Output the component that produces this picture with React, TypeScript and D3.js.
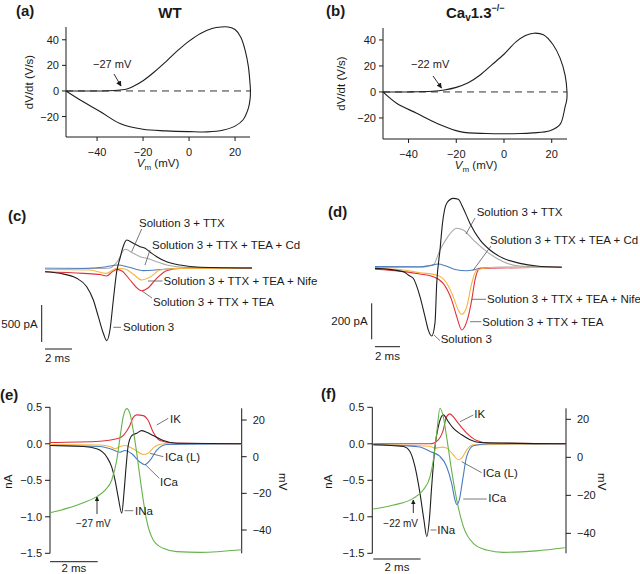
import React from 'react';
import * as d3 from 'd3';

type Pt = [number, number];

// (a) WT phase plot, Vm (mV) vs dV/dt (V/s): rising branch then falling branch
const wtRise: Pt[] = [[-53.5,0],[-45,0],[-35,0.2],[-30,0.8],[-27,1.5],[-24,3.8],[-20,8],[-15,15],[-10,23],[-5,31.5],[0,39],[5,45],[10,48.8],[14,50],[17,50],[20,48],[22.5,42],[24.5,31],[25.8,19],[26.5,6],[26.7,0]];
const wtFall: Pt[] = [[26.5,-7],[25.7,-14],[23.5,-22.5],[20,-27.5],[15,-30.5],[8,-32],[0,-31.8],[-10,-31.2],[-20,-30],[-30,-25.5],[-38.7,-16],[-46,-8.5],[-53.5,0]];
// (b) Cav1.3-/- phase plot
const koRise: Pt[] = [[-50.7,0],[-40,0],[-30,0.5],[-25,1.5],[-20,3.5],[-15,7],[-10,13],[-5,21],[0,29],[5,38.5],[9,43.5],[12.5,45.2],[16.5,44],[20.5,36.5],[23.5,26],[25.6,13],[26.4,0]];
const koFall: Pt[] = [[26.3,-6],[25.6,-11.5],[23.5,-25],[19.3,-29.8],[12,-31.5],[6.7,-32],[-7.3,-32],[-18.4,-30.5],[-28.2,-24],[-36.6,-16.4],[-45,-8.7],[-50.7,0]];
const phaseYTicks = [40, 20, 0, -20];
const phaseXTicks = [-40, -20, 0, 20];

// (c) WT currents, ms vs pA
const cSol3: Pt[] = [[0,-50],[1.11,-72],[2.35,-139],[3.09,-253],[3.58,-432],[3.95,-658],[4.32,-882],[4.57,-982],[4.81,-838],[5.06,-432],[5.31,-50],[5.56,135],[5.78,284],[6.05,378],[6.54,334],[7.04,288],[7.41,266],[7.78,216],[8.27,153],[9.01,85],[10,40],[11.48,10],[15.33,0]];
const cTTX: Pt[] = [[0,0],[4.07,-7],[4.81,0],[5.33,81],[5.93,253],[6.54,199],[7.04,153],[7.53,131],[8.27,85],[9.01,40],[10.24,10],[15.33,0]];
const cCd: Pt[] = [[0,-14],[2.81,-7],[4.44,14],[5.43,41],[6.15,14],[7.28,-36],[8.15,-27],[9.01,-14],[10.74,0],[15.33,0]];
const cNife: Pt[] = [[0,-20],[3.33,-27],[4.57,-72],[5.31,-4],[5.93,-14],[6.52,-81],[7.16,-162],[7.78,-122],[8.52,-27],[9.63,-7],[15.33,0]];
const cTEA: Pt[] = [[0,-50],[2.84,-72],[4.07,-88],[4.57,-108],[4.96,-54],[5.31,-18],[5.7,-41],[6.3,-162],[6.74,-257],[7.16,-307],[7.63,-270],[8.27,-139],[9.01,-36],[10,-7],[15.33,0]];

// (d) Cav1.3-/- currents, ms vs pA
const dSol3: Pt[] = [[0,-6],[2.26,-24],[2.66,-43],[3.06,-61],[3.6,-163],[4,-274],[4.26,-348],[4.54,-382],[4.8,-309],[4.94,-89],[5.2,96],[5.4,244],[5.74,356],[6.26,383],[6.66,378],[7.06,328],[7.6,244],[8.4,152],[9.2,96],[10.26,50],[11.6,22],[12.94,7],[14.94,0]];
const dTTX: Pt[] = [[0,0],[3.6,0],[4.66,13],[5.2,96],[5.74,161],[6.54,217],[7.06,207],[7.86,152],[8.94,87],[10.26,31],[11.6,7],[14.94,0]];
const dCd: Pt[] = [[0,4],[3.6,3],[4.4,10],[5.06,18],[5.68,7],[6.4,-12],[7.34,-19],[7.84,-15],[8.4,-6],[10,0],[14.94,0]];
const dNife: Pt[] = [[0,-6],[2.24,-15],[3.6,-30],[4.94,-43],[5.74,-89],[6.26,-163],[6.66,-237],[6.94,-261],[7.34,-219],[7.74,-89],[8.14,-15],[9.2,-1],[14.94,0]];
const dTEA: Pt[] = [[0,-11],[2.26,-24],[3.6,-37],[4.66,-52],[5.46,-89],[6.14,-182],[6.54,-274],[6.94,-348],[7.34,-302],[7.74,-182],[8,-71],[8.4,-6],[14.94,0]];

// (e) WT subtracted currents (nA) and AP (mV)
const eVm: Pt[] = [[0,-30.6],[0.7,-28.2],[1.4,-25.1],[1.96,-21.8],[2.31,-18.2],[2.59,-12.7],[2.8,-1.8],[2.94,10.8],[3.07,21.7],[3.22,26.2],[3.35,23.6],[3.49,14.5],[3.64,1.8],[3.77,-10.9],[3.91,-23.6],[4.05,-34.5],[4.33,-45.4],[4.75,-50],[5.31,-51.8],[6.29,-52.2],[8.04,-50.8]];
const eINa: Pt[] = [[0,-0.023],[1.4,-0.037],[1.96,-0.068],[2.38,-0.18],[2.59,-0.32],[2.73,-0.5],[2.86,-0.73],[3.01,-0.95],[3.1,-0.68],[3.19,-0.32],[3.28,-0.023],[3.43,0.113],[3.64,0.145],[3.84,0.18],[4.05,0.158],[4.33,0.113],[4.75,0.045],[5.31,0.008],[8.04,0]];
const eIK: Pt[] = [[0,0.018],[2.1,0.035],[2.8,0.068],[3.07,0.113],[3.35,0.25],[3.49,0.363],[3.64,0.396],[3.91,0.386],[4.12,0.318],[4.33,0.158],[4.61,0.045],[5.16,0.01],[8.04,0]];
const eICaL: Pt[] = [[0,-0.01],[2.1,-0.016],[2.52,-0.037],[2.73,-0.068],[2.94,-0.037],[3.14,-0.023],[3.49,-0.068],[3.91,-0.146],[4.12,-0.128],[4.4,-0.037],[4.75,0],[8.04,0]];
const eICa: Pt[] = [[0,-0.023],[2.1,-0.037],[2.52,-0.068],[2.94,-0.115],[3.14,-0.091],[3.43,-0.136],[3.77,-0.25],[3.98,-0.286],[4.19,-0.228],[4.47,-0.091],[4.89,-0.01],[8.04,0]];

// (f) Cav1.3-/- subtracted currents (nA) and AP (mV)
const fVm: Pt[] = [[0,-27.2],[0.85,-25.1],[1.69,-21.6],[2.11,-17.2],[2.4,-10.2],[2.54,-1.4],[2.68,12.6],[2.82,25.8],[2.96,21.4],[3.1,10.8],[3.31,-6.7],[3.53,-22.5],[3.81,-36.5],[4.23,-45.3],[4.79,-48.8],[5.5,-50],[6.91,-49.2],[8.1,-47.6]];
const fINa: Pt[] = [[0,-0.014],[1.27,-0.037],[1.55,-0.105],[1.76,-0.31],[1.97,-0.67],[2.14,-1.04],[2.26,-1.27],[2.37,-1.04],[2.47,-0.58],[2.61,-0.037],[2.75,0.236],[2.96,0.396],[3.17,0.304],[3.38,0.214],[3.74,0.123],[4.09,0.055],[4.51,0.018],[8.15,0]];
const fIK: Pt[] = [[0,0],[2.4,0],[2.75,0.055],[2.96,0.19],[3.1,0.372],[3.24,0.41],[3.38,0.372],[3.59,0.282],[3.95,0.146],[4.37,0.045],[4.93,0.007],[8.15,0]];
const fICaL: Pt[] = [[0,-0.007],[2.4,-0.037],[2.61,-0.059],[2.89,-0.045],[3.1,-0.059],[3.38,-0.15],[3.59,-0.218],[3.74,-0.195],[3.95,-0.082],[4.23,-0.014],[8.15,0]];
const fICa: Pt[] = [[0,-0.014],[1.41,-0.027],[1.97,-0.045],[2.4,-0.105],[2.82,-0.173],[3.1,-0.31],[3.31,-0.536],[3.45,-0.764],[3.53,-0.832],[3.64,-0.764],[3.78,-0.491],[3.95,-0.173],[4.23,-0.027],[4.93,0],[8.15,0]];

const nATicks = [0.5, 0, -0.5, -1, -1.5];
const mVTicks = [20, 0, -20, -40];

const FONT = '"Liberation Sans", Arial, Helvetica, sans-serif';
const INK = '#1a1a1a';
const LEAD = '#555';
const C = { black: '#1e1e1e', grey: '#a9a9a9', blue: '#4a7cc2', orange: '#f4b63f', red: '#e0303c', green: '#67b24a' };

const fmtInt = (d: number) => (d < 0 ? '\u2212' + Math.abs(d) : String(d));
const fmt1 = d3.format('.1f');

function PhasePanel({ rise, fall, xDomain, xRange, yDomain, yRange, ylabX, vmX, thr, thrX, arrow }: any) {
  const x = d3.scaleLinear().domain(xDomain).range(xRange);
  const y = d3.scaleLinear().domain(yDomain).range(yRange);
  const line = d3.line<Pt>().x(d => x(d[0])).y(d => y(d[1])).curve(d3.curveCatmullRom.alpha(0.5));
  const [x0, x1] = xRange;
  const [yb, yt] = yRange;
  return (
    <g>
      <line x1={x0} x2={x0} y1={yt} y2={yb} stroke={INK} />
      <line x1={x0} x2={x1} y1={yb} y2={yb} stroke={INK} />
      {phaseYTicks.map(t => (
        <g key={'y' + t}>
          <line x1={x0 - 4} x2={x0} y1={y(t)} y2={y(t)} stroke={INK} />
          <text x={x0 - 7} y={y(t) + 4} textAnchor="end" fontSize={11}>{fmtInt(t)}</text>
        </g>
      ))}
      {phaseXTicks.map(t => (
        <g key={'x' + t}>
          <line x1={x(t)} x2={x(t)} y1={yb} y2={yb + 4} stroke={INK} />
          <text x={x(t)} y={yb + 19} textAnchor="middle" fontSize={11}>{fmtInt(t)}</text>
        </g>
      ))}
      <text transform={`translate(${ylabX},${(yt + yb) / 2})`} fontSize={11.5}>
        <tspan transform="rotate(-90)" />
      </text>
      <text transform={`translate(${ylabX},${(yt + yb) / 2}) rotate(-90)`} textAnchor="middle" fontSize={11.5}>dV/dt (V/s)</text>
      <text x={vmX} y={yb + 30} textAnchor="middle" fontSize={11.5}>
        <tspan fontStyle="italic">V</tspan>
        <tspan fontSize={8} dy={3}>m</tspan>
        <tspan dy={-3}> (mV)</tspan>
      </text>
      <line x1={x0} x2={x1} y1={y(0)} y2={y(0)} stroke="#333" strokeDasharray="7,5" />
      <path d={line([...rise, ...fall]) || ''} fill="none" stroke={C.black} strokeWidth={1.1} />
      <text x={thrX} y={68} fontSize={11}>{thr}</text>
      <line x1={arrow[0]} y1={arrow[1]} x2={arrow[2]} y2={arrow[3]} stroke={INK} strokeWidth={0.9} markerEnd="url(#ah)" />
    </g>
  );
}

function CurrentPanel({ traces, xDomain, xRange, yDomain, yRange, barX, barY, barLabel, scaleSpan, labels }: any) {
  const x = d3.scaleLinear().domain(xDomain).range(xRange);
  const y = d3.scaleLinear().domain(yDomain).range(yRange);
  const line = d3.line<Pt>().x(d => x(d[0])).y(d => y(d[1])).curve(d3.curveMonotoneX);
  return (
    <g>
      {traces.map((t: any, i: number) => (
        <path key={i} d={line(t.data) || ''} fill="none" stroke={t.color} strokeWidth={1.1} />
      ))}
      <line x1={barX} x2={barX} y1={y(scaleSpan[0])} y2={y(scaleSpan[1])} stroke={INK} />
      <text x={barX - 4} y={(y(scaleSpan[0]) + y(scaleSpan[1])) / 2 + 4} textAnchor="end" fontSize={11.5}>{barLabel}</text>
      <line x1={x(0)} x2={x(2)} y1={barY} y2={barY} stroke={INK} />
      <text x={x(0)} y={barY + 13} fontSize={11.5}>2 ms</text>
      {labels.map((l: any, i: number) => (
        <g key={'l' + i}>
          <line x1={l.lead[0]} y1={l.lead[1]} x2={l.lead[2]} y2={l.lead[3]} stroke={LEAD} strokeWidth={0.8} />
          <text x={l.x} y={l.y} fontSize={11.5}>{l.text}</text>
        </g>
      ))}
    </g>
  );
}

function DualPanel({ currents, vm, xDomain, xRange, vDomain, leftX, rightX, nALabX, mVLabX, barY, labels, thr }: any) {
  const x = d3.scaleLinear().domain(xDomain).range(xRange);
  const y = d3.scaleLinear().domain([-1.5, 0.5]).range([553.3, 407.3]);
  const v = d3.scaleLinear().domain(vDomain).range([553.3, 408.3]);
  const lineI = d3.line<Pt>().x(d => x(d[0])).y(d => y(d[1])).curve(d3.curveMonotoneX);
  const lineV = d3.line<Pt>().x(d => x(d[0])).y(d => v(d[1])).curve(d3.curveMonotoneX);
  return (
    <g>
      <line x1={leftX} x2={leftX} y1={y(0.5)} y2={y(-1.5)} stroke={INK} />
      {nATicks.map(t => (
        <g key={'n' + t}>
          <line x1={leftX - 5} x2={leftX} y1={y(t)} y2={y(t)} stroke={INK} />
          <text x={leftX - 8} y={y(t) + 4} textAnchor="end" fontSize={11}>{fmt1(t)}</text>
        </g>
      ))}
      <line x1={rightX} x2={rightX} y1={408.3} y2={553.3} stroke={INK} />
      {mVTicks.map(t => (
        <g key={'m' + t}>
          <line x1={rightX} x2={rightX + 5} y1={v(t)} y2={v(t)} stroke={INK} />
          <text x={rightX + 11} y={v(t) + 4} fontSize={11}>{fmtInt(t)}</text>
        </g>
      ))}
      <text transform={`translate(${nALabX},481.7) rotate(-90)`} textAnchor="middle" fontSize={11.5}>nA</text>
      <text transform={`translate(${mVLabX},481.7) rotate(90)`} textAnchor="middle" fontSize={11.5}>mV</text>
      {currents.map((t: any, i: number) => (
        <path key={i} d={lineI(t.data) || ''} fill="none" stroke={t.color} strokeWidth={1.1} />
      ))}
      <path d={lineV(vm) || ''} fill="none" stroke={C.green} strokeWidth={1.1} />
      <line x1={x(0)} x2={x(2)} y1={barY} y2={barY} stroke={INK} />
      <text x={(x(0) + x(2)) / 2} y={Math.min(barY + 12, 571.5)} textAnchor="middle" fontSize={11.5}>2 ms</text>
      {labels.map((l: any, i: number) => (
        <g key={'l' + i}>
          <line x1={l.lead[0]} y1={l.lead[1]} x2={l.lead[2]} y2={l.lead[3]} stroke={LEAD} strokeWidth={0.8} />
          <text x={l.x} y={l.y} fontSize={11.5}>{l.text}</text>
        </g>
      ))}
      <text x={thr.x} y={thr.y} fontSize={10}>{thr.text}</text>
      <line x1={thr.ax} x2={thr.ax} y1={thr.y0} y2={thr.y1} stroke={INK} strokeWidth={0.9} markerEnd="url(#ah2)" />
    </g>
  );
}

export default function App() {
  return (
    <svg width={640} height={574} style={{ position: 'absolute', left: 0, top: 0, background: '#fff' }} fontFamily={FONT} fill={INK}>
      <defs>
        <marker id="ah" viewBox="0 0 10 10" refX="9" refY="5" markerWidth="6" markerHeight="6" orient="auto">
          <path d="M0,0 L10,5 L0,10 z" fill={INK} />
        </marker>
        <marker id="ah2" viewBox="0 0 10 10" refX="9" refY="5" markerWidth="5" markerHeight="5" orient="auto">
          <path d="M0,0 L10,5 L0,10 z" fill={INK} />
        </marker>
      </defs>
      <rect width={640} height={574} fill="#fff" />

      {/* panel letters and titles */}
      <text x={16} y={16} fontSize={15} fontWeight="bold">(a)</text>
      <text x={170} y={17.5} fontSize={15} fontWeight="bold" textAnchor="middle">WT</text>
      <text x={326} y={16} fontSize={15} fontWeight="bold">(b)</text>
      <text x={446} y={17.5} fontSize={15} fontWeight="bold">
        Ca<tspan fontSize={10} dy={3}>v</tspan><tspan dy={-3}>1.3</tspan><tspan fontSize={9} dy={-7}>{'\u2212/\u2212'}</tspan>
      </text>
      <text x={8} y={221} fontSize={15} fontWeight="bold">(c)</text>
      <text x={328} y={217} fontSize={15} fontWeight="bold">(d)</text>
      <text x={0} y={400} fontSize={15} fontWeight="bold">(e)</text>
      <text x={321} y={399} fontSize={15} fontWeight="bold">(f)</text>

      <PhasePanel rise={wtRise} fall={wtFall} xDomain={[-53.5, 26.5]} xRange={[66, 250]} yDomain={[-36, 50]} yRange={[137, 27]}
        ylabX={33} vmX={158} thr={'\u221227 mV'} thrX={93} arrow={[114, 74, 121, 86]} />
      <PhasePanel rise={koRise} fall={koFall} xDomain={[-50.7, 26.4]} xRange={[383, 567]} yDomain={[-36.2, 49.2]} yRange={[139, 28]}
        ylabX={345} vmX={476} thr={'\u221222 mV'} thrX={411} arrow={[433, 76, 441.5, 88]} />

      <CurrentPanel
        traces={[{ data: cTTX, color: C.grey }, { data: cCd, color: C.blue }, { data: cTEA, color: C.red }, { data: cNife, color: C.orange }, { data: cSol3, color: C.black }]}
        xDomain={[0, 15.33]} xRange={[45, 252]} yDomain={[-1000, 500]} yRange={[342, 231]}
        barX={41.7} barY={349} barLabel="500 pA" scaleSpan={[-500, -1000]}
        labels={[
          { text: 'Solution 3 + TTX', x: 139, y: 227, lead: [141.7, 229, 131.7, 251.7] },
          { text: 'Solution 3 + TTX + TEA + Cd', x: 152, y: 249, lead: [150, 250, 145, 265] },
          { text: 'Solution 3 + TTX + TEA + Nife', x: 163.5, y: 285, lead: [148, 281, 162.5, 281] },
          { text: 'Solution 3 + TTX + TEA', x: 153, y: 306, lead: [142, 291, 152, 298] },
          { text: 'Solution 3', x: 123, y: 331, lead: [113.3, 327.3, 121, 327.3] },
        ]} />
      <CurrentPanel
        traces={[{ data: dTTX, color: C.grey }, { data: dCd, color: C.blue }, { data: dTEA, color: C.red }, { data: dNife, color: C.orange }, { data: dSol3, color: C.black }]}
        xDomain={[0, 14.94]} xRange={[375, 561.7]} yDomain={[-400, 400]} yRange={[339.3, 195.3]}
        barX={371.7} barY={346.7} barLabel="200 pA" scaleSpan={[-200, -400]}
        labels={[
          { text: 'Solution 3 + TTX', x: 476.7, y: 215.7, lead: [475, 218, 466, 234] },
          { text: 'Solution 3 + TTX + TEA + Cd', x: 490, y: 244, lead: [491, 246, 473, 270.5] },
          { text: 'Solution 3 + TTX + TEA + Nife', x: 487, y: 303.3, lead: [471.7, 299.3, 486, 299.3] },
          { text: 'Solution 3 + TTX + TEA', x: 482.3, y: 326.3, lead: [470, 321.7, 481.3, 321.7] },
          { text: 'Solution 3', x: 440.7, y: 343, lead: [434, 335, 440, 340.7] },
        ]} />

      <DualPanel
        currents={[{ data: eIK, color: C.red }, { data: eICaL, color: C.orange }, { data: eICa, color: C.blue }, { data: eINa, color: C.black }]}
        vm={eVm} xDomain={[0, 8.04]} xRange={[50, 241.7]} vDomain={[-52.7, 26.4]}
        leftX={50} rightX={241.7} nALabX={11.5} mVLabX={279} barY={561.7}
        labels={[
          { text: 'IK', x: 170, y: 423, lead: [156.7, 425, 168.3, 418.3] },
          { text: 'ICa (L)', x: 165, y: 461.3, lead: [150, 453.3, 163.3, 456.7] },
          { text: 'ICa', x: 160, y: 485.7, lead: [145, 464.3, 159.3, 478.3] },
          { text: 'INa', x: 135, y: 514.7, lead: [124.5, 510.7, 133.3, 510.7] },
        ]}
        thr={{ text: '\u221227 mV', x: 76, y: 527, ax: 97, y0: 514, y1: 497 }} />
      <DualPanel
        currents={[{ data: fIK, color: C.red }, { data: fICaL, color: C.orange }, { data: fICa, color: C.blue }, { data: fINa, color: C.black }]}
        vm={fVm} xDomain={[0, 8.15]} xRange={[373.3, 566]} vDomain={[-50.5, 25.8]}
        leftX={372.3} rightX={566} nALabX={332} mVLabX={598} barY={559}
        labels={[
          { text: 'IK', x: 474.3, y: 418.3, lead: [460, 421.7, 473.3, 415] },
          { text: 'ICa (L)', x: 482.7, y: 477.3, lead: [461.7, 461.7, 481.7, 472.7] },
          { text: 'ICa', x: 488.3, y: 502.3, lead: [463.3, 499, 486.7, 499] },
          { text: 'INa', x: 437.3, y: 534, lead: [430.5, 530, 436.5, 530] },
        ]}
        thr={{ text: '\u221222 mV', x: 383.3, y: 526.7, ax: 413.3, y0: 513, y1: 500 }} />
    </svg>
  );
}
